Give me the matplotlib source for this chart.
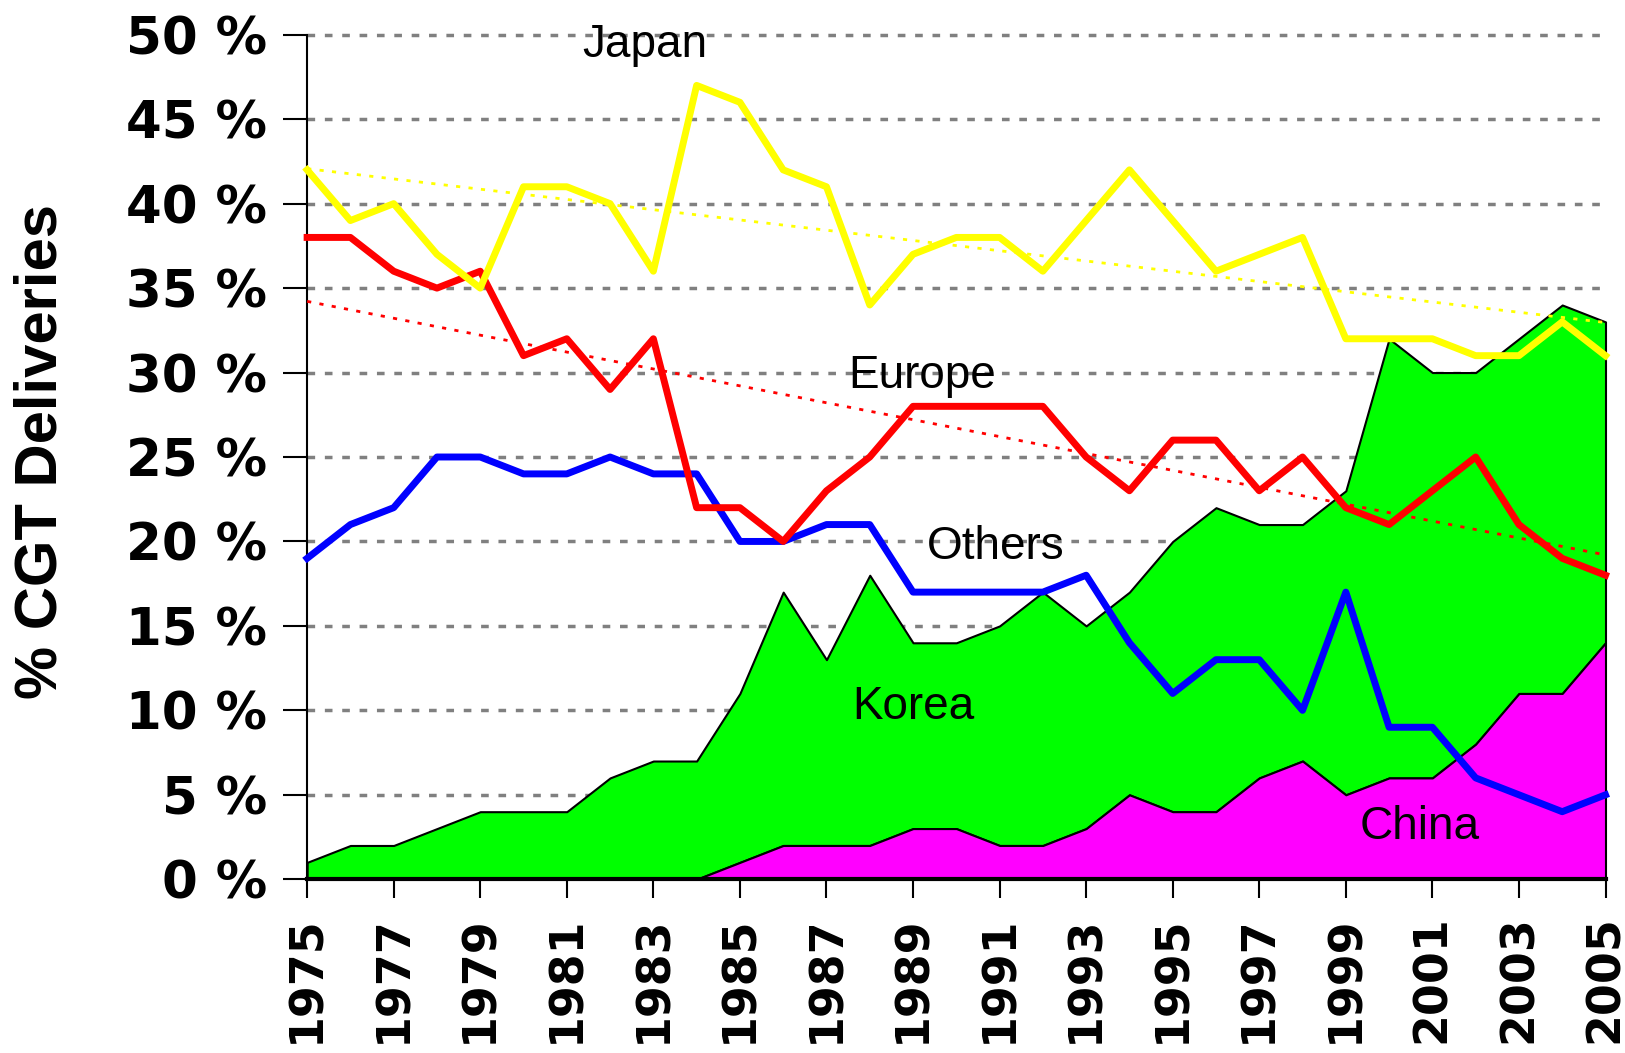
import numpy as np
import matplotlib
matplotlib.use("Agg")
import matplotlib.pyplot as plt

years = list(range(1975, 2006))
japan = [42, 39, 40, 37, 35, 41, 41, 40, 36, 47, 46, 42, 41, 34, 37, 38,
         38, 36, 39, 42, 39, 36, 37, 38, 32, 32, 32, 31, 31, 33, 31]
europe = [38, 38, 36, 35, 36, 31, 32, 29, 32, 22, 22, 20, 23, 25, 28, 28,
          28, 28, 25, 23, 26, 26, 23, 25, 22, 21, 23, 25, 21, 19, 18]
others = [19, 21, 22, 25, 25, 24, 24, 25, 24, 24, 20, 20, 21, 21, 17, 17,
          17, 17, 18, 14, 11, 13, 13, 10, 17, 9, 9, 6, 5, 4, 5]
china = [0, 0, 0, 0, 0, 0, 0, 0, 0, 0, 1, 2, 2, 2, 3, 3,
         2, 2, 3, 5, 4, 4, 6, 7, 5, 6, 6, 8, 11, 11, 14]
korea = [1, 2, 2, 3, 4, 4, 4, 6, 7, 7, 10, 15, 11, 16, 11, 11,
         13, 15, 12, 12, 16, 18, 15, 14, 18, 26, 24, 22, 21, 23, 19]
yticks = list(range(0, 51, 5))
xticks = list(range(1975, 2006, 2))

x = np.array(years)
ch = np.array(china)
ko_top = ch + np.array(korea)

fig = plt.figure(figsize=(16.25, 10.53), dpi=100)
ax = fig.add_axes([0.189, 0.165, 0.799, 0.802])

# grid under the areas
for t in yticks[1:]:
    ax.axhline(t, color="#808080", lw=2.5, ls=(0, (2.2, 2.8)), zorder=0)

ax.fill_between(x, ch, ko_top, facecolor="#00ff00", edgecolor="black", lw=1.5, zorder=1)
ax.fill_between(x, 0, ch, facecolor="#ff00ff", edgecolor="black", lw=1.5, zorder=2)

# trend lines (linear fit)
for vals, col in [(japan, "#ffff00"), (europe, "red")]:
    k, b = np.polyfit(x, vals, 1)
    ax.plot(x, k * x + b, color=col, lw=2, ls=(0, (1.5, 3)), zorder=3)

ax.plot(x, others, color="#0000ff", lw=5, zorder=4)
ax.plot(x, europe, color="#ff0000", lw=5, zorder=5)
ax.plot(x, japan, color="#ffff00", lw=5, zorder=6)

ax.set_xlim(1975, 2005)
ax.set_ylim(0, 50)
ax.set_yticks(yticks)
ax.set_yticklabels([f"{t} %" for t in yticks], fontsize=37, fontweight="bold")
ax.set_xticks(xticks)
ax.set_xticklabels([str(t) for t in xticks], rotation=90, fontsize=33, fontweight="bold")
ax.tick_params(axis="x", direction="out", length=14, width=1.5, pad=12)
ax.tick_params(axis="y", direction="out", length=17, width=1.5, pad=12)

for s in ["top", "right"]:
    ax.spines[s].set_visible(False)
ax.spines["left"].set_linewidth(1.5)
ax.spines["bottom"].set_linewidth(3)
ax.spines["bottom"].set_zorder(7)

ax.set_ylabel("% CGT Deliveries", fontsize=43, fontweight="bold", family="Liberation Sans")
ax.yaxis.set_label_coords(-0.184, 0.507)

lab_font = dict(fontsize=33, family="Liberation Sans", ha="center", va="center", zorder=8)
ax.text(1982.8, 49.4, "Japan", **lab_font)
ax.text(1989.2, 29.8, "Europe", **lab_font)
ax.text(1990.9, 19.7, "Others", **lab_font)
ax.text(1989.0, 10.2, "Korea", **lab_font)
ax.text(2000.7, 3.1, "China", **lab_font)

for a in ax.lines + ax.collections:
    a.set_clip_on(False)

fig.savefig("out.png", dpi=100)
